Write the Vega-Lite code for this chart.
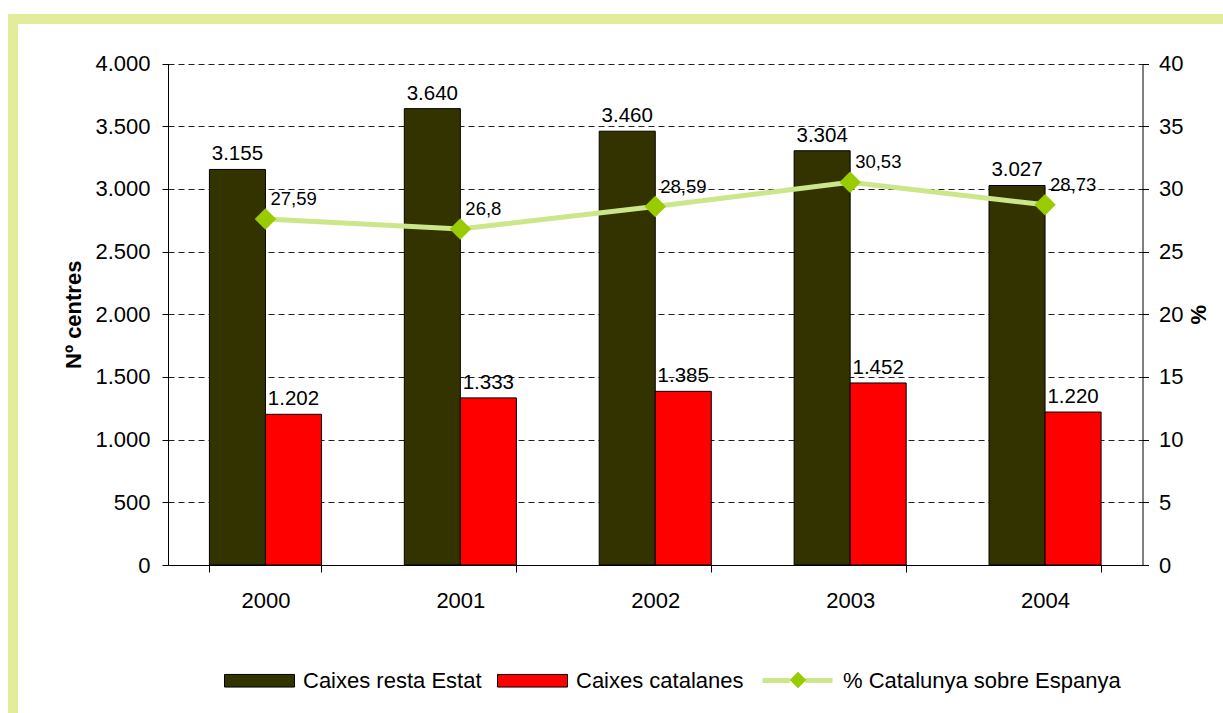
{
  "$schema": "https://vega.github.io/schema/vega-lite/v6.json",
  "width": 1220,
  "height": 704,
  "autosize": {"type": "none"},
  "padding": {"left": 13, "top": 19, "right": -10, "bottom": -10},
  "background": "white",
  "config": {
    "font": "Liberation Sans",
    "locale": {"number": {"decimal": ",", "thousands": ".", "grouping": [3], "currency": ["", " €"]}},
    "view": {"stroke": "#E2EC9A", "strokeWidth": 10, "fill": "white"},
    "axis": {"labelFont": "Liberation Sans", "labelFontSize": 22, "labelColor": "#000", "domainColor": "#000", "tickColor": "#000", "titleColor": "#000", "titleFont": "Liberation Sans"},
    "legend": {"labelFont": "Liberation Sans", "labelFontSize": 22, "labelColor": "#000", "labelLimit": 600, "padding": 0, "title": null},
    "text": {"font": "Liberation Sans", "color": "#000"}
  },
  "datasets": {
    "barres": [
      {"any": "2000", "serie": "Caixes resta Estat", "valor": 3155},
      {"any": "2000", "serie": "Caixes catalanes", "valor": 1202},
      {"any": "2001", "serie": "Caixes resta Estat", "valor": 3640},
      {"any": "2001", "serie": "Caixes catalanes", "valor": 1333},
      {"any": "2002", "serie": "Caixes resta Estat", "valor": 3460},
      {"any": "2002", "serie": "Caixes catalanes", "valor": 1385},
      {"any": "2003", "serie": "Caixes resta Estat", "valor": 3304},
      {"any": "2003", "serie": "Caixes catalanes", "valor": 1452},
      {"any": "2004", "serie": "Caixes resta Estat", "valor": 3027},
      {"any": "2004", "serie": "Caixes catalanes", "valor": 1220}
    ],
    "pct": [
      {"any": "2000", "serie": "% Catalunya sobre Espanya", "punt": "rombe", "pct": 27.59},
      {"any": "2001", "serie": "% Catalunya sobre Espanya", "punt": "rombe", "pct": 26.8},
      {"any": "2002", "serie": "% Catalunya sobre Espanya", "punt": "rombe", "pct": 28.59},
      {"any": "2003", "serie": "% Catalunya sobre Espanya", "punt": "rombe", "pct": 30.53},
      {"any": "2004", "serie": "% Catalunya sobre Espanya", "punt": "rombe", "pct": 28.73}
    ]
  },
  "encoding": {
    "x": {
      "field": "any",
      "type": "nominal",
      "scale": {"range": [155, 1129.5], "paddingInner": 0.425, "paddingOuter": 0.2125},
      "axis": {"title": null, "orient": "bottom", "offset": -158, "tickBand": "extent", "tickSize": 7, "labelPadding": 18, "labelAngle": 0, "grid": false, "labelFontSize": 22}
    }
  },
  "layer": [
    {
      "data": {"name": "barres"},
      "encoding": {
        "y": {
          "field": "valor",
          "type": "quantitative",
          "scale": {"domain": [0, 4000], "range": [546, 44.5], "nice": false},
          "axis": {
            "title": "Nº centres",
            "orient": "left",
            "offset": -155,
            "values": [0, 500, 1000, 1500, 2000, 2500, 3000, 3500, 4000],
            "format": ",d",
            "grid": true,
            "gridDash": [6, 4],
            "gridColor": "#222",
            "tickSize": 6,
            "labelPadding": 12,
            "titleFontSize": 22,
            "titleFontWeight": "bold",
            "titlePadding": 9
          }
        },
        "xOffset": {"field": "serie", "type": "nominal", "scale": {"domain": ["Caixes resta Estat", "Caixes catalanes"], "paddingInner": 0, "paddingOuter": 0}}
      },
      "layer": [
        {
          "mark": {"type": "bar", "stroke": "#000", "strokeWidth": 1, "opacity": 1},
          "encoding": {
            "fill": {
              "field": "serie",
              "type": "nominal",
              "scale": {"domain": ["Caixes resta Estat", "Caixes catalanes"], "range": ["#333300", "#FF0000"]},
              "legend": {
                "orient": "none",
                "legendX": 211,
                "legendY": 626,
                "direction": "horizontal",
                "columns": 2,
                "labelOffset": 8,
                "columnPadding": 13,
                "symbolSize": 4900,
                "symbolType": "M-1,-0.18H1V0.18H-1Z",
                "symbolStrokeColor": "#000",
                "symbolStrokeWidth": 1
              }
            }
          }
        },
        {
          "mark": {"type": "text", "baseline": "alphabetic", "align": "center", "dy": -9, "fontSize": 20.5},
          "encoding": {
            "text": {"field": "valor", "type": "quantitative", "format": ",d"}
          }
        }
      ]
    },
    {
      "data": {"name": "pct"},
      "encoding": {
        "y": {
          "field": "pct",
          "type": "quantitative",
          "scale": {"domain": [0, 40], "range": [546, 44.5], "nice": false},
          "axis": {
            "title": "%",
            "orient": "right",
            "offset": -90.5,
            "values": [0, 5, 10, 15, 20, 25, 30, 35, 40],
            "grid": false,
            "tickSize": 6,
            "labelPadding": 10,
            "titleFontSize": 22,
            "titleFontWeight": "bold",
            "titleAngle": 270,
            "titlePadding": 28
          }
        }
      },
      "layer": [
        {
          "mark": {"type": "line", "strokeWidth": 5},
          "encoding": {
            "stroke": {
              "field": "serie",
              "type": "nominal",
              "scale": {"domain": ["% Catalunya sobre Espanya"], "range": ["#CCE68A"]},
              "legend": {
                "orient": "none",
                "legendX": 747,
                "legendY": 624,
                "labelOffset": 8,
                "symbolSize": 4900,
                "symbolType": "M-1,0H-0.22M0.22,0H1",
                "symbolStrokeWidth": 5
              }
            }
          }
        },
        {
          "mark": {"type": "point", "filled": true, "fill": "#99CC00", "size": 460, "opacity": 1, "strokeWidth": 0},
          "encoding": {
            "shape": {
              "field": "punt",
              "type": "nominal",
              "scale": {"domain": ["rombe"], "range": ["diamond"]},
              "legend": {
                "orient": "none",
                "legendX": 774,
                "legendY": 650,
                "labelExpr": "''",
                "symbolSize": 280,
                "symbolFillColor": "#99CC00",
                "symbolStrokeWidth": 0,
                "symbolOpacity": 1
              }
            }
          }
        },
        {
          "mark": {"type": "text", "align": "left", "baseline": "alphabetic", "dx": 5, "dy": -14, "fontSize": 18.5},
          "encoding": {
            "text": {"field": "pct", "type": "quantitative", "format": "~r"}
          }
        }
      ]
    }
  ],
  "resolve": {"scale": {"y": "independent"}}
}
